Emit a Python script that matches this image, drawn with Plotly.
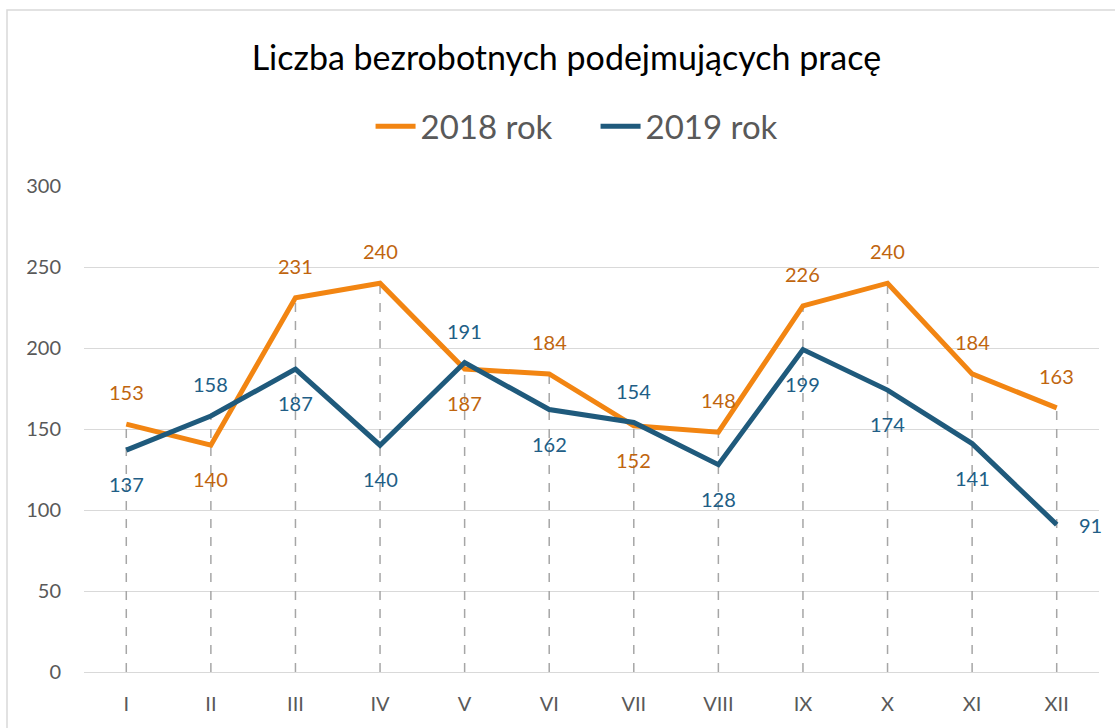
import plotly.graph_objects as go

months = ["I", "II", "III", "IV", "V", "VI", "VII", "VIII", "IX", "X", "XI", "XII"]
y2018 = [153, 140, 231, 240, 187, 184, 152, 148, 226, 240, 184, 163]
y2019 = [137, 158, 187, 140, 191, 162, 154, 128, 199, 174, 141, 91]
pos2018 = ["above", "below", "above", "above", "below", "above", "below", "above", "above", "above", "above", "above"]
pos2019 = ["below", "above", "below", "below", "above", "below", "above", "below", "below", "below", "below", "right"]
yticks = [0, 50, 100, 150, 200, 250, 300]

FONT = "Lato"
C18 = "#F28512"
C19 = "#1F5A7C"
T18 = "#C0650E"
T19 = "#215E86"

# drop lines from axis to the higher of the two series
dx, dy = [], []
for m, a, b in zip(months, y2018, y2019):
    dx += [m, m, None]
    dy += [0, max(a, b), None]

fig = go.Figure()
fig.add_trace(go.Scatter(x=dx, y=dy, mode="lines", showlegend=False, hoverinfo="skip",
                         line=dict(color="#A6A6A6", width=1.5, dash="dash")))
fig.add_trace(go.Scatter(x=months, y=y2018, mode="lines", name="2018 rok",
                         line=dict(color=C18, width=5)))
fig.add_trace(go.Scatter(x=months, y=y2019, mode="lines", name="2019 rok",
                         line=dict(color=C19, width=5)))

ann = []
for vals, poss, col in ((y2018, pos2018, T18), (y2019, pos2019, T19)):
    for m, v, p in zip(months, vals, poss):
        xs, ys = 0, 0
        if p == "above":
            ys = 32
        elif p == "below":
            ys = -34
        else:
            xs = 34
        ann.append(dict(x=m, y=v, text=str(v), showarrow=False, xshift=xs, yshift=ys,
                        font=dict(family=FONT, size=20, color=col)))

fig.update_layout(
    width=1115, height=728,
    margin=dict(l=84, r=16, t=186, b=56),
    paper_bgcolor="white", plot_bgcolor="white",
    title=dict(text="Liczba bezrobotnych podejmujących pracę", x=0.508, xanchor="center",
               y=1 - 58 / 728, yanchor="middle",
               font=dict(family=FONT, size=34, color="#000000")),
    legend=dict(orientation="h", x=0.504, xanchor="center", y=1.123, yanchor="middle",
                font=dict(family=FONT, size=33, color="#595959"), itemwidth=40,
                entrywidth=170),
    annotations=ann,
    xaxis=dict(range=[-0.5, 11.5], showgrid=False, showline=False, ticks="", automargin=False,
               ticklabelstandoff=18,
               tickfont=dict(family=FONT, size=20, color="#595959")),
    yaxis=dict(range=[0, 300], tickvals=yticks, showgrid=True, gridcolor="#D9D9D9", gridwidth=1.2,
               zeroline=True, zerolinecolor="#D9D9D9", zerolinewidth=1.2, ticks="",
               ticklabelstandoff=22, automargin=False,
               tickfont=dict(family=FONT, size=20, color="#595959")),
    shapes=[dict(type="rect", xref="paper", yref="paper", x0=(7 - 84) / 1015, x1=1.2,
                 y0=-0.3, y1=(672 - 10) / 486, line=dict(color="#D9D9D9", width=1.5),
                 fillcolor="rgba(0,0,0,0)", layer="below")],
)

fig.write_html("out.html", config={"displayModeBar": False},
               post_script="document.body.style.margin='0';")
